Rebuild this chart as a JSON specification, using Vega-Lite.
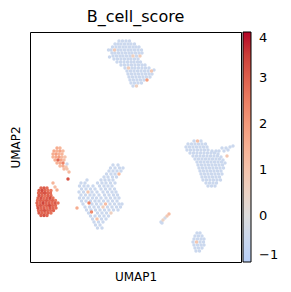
{
"$schema": "https://vega.github.io/schema/vega-lite/v6.json",
"width": 211, "height": 230,
"autosize": "none",
"padding": {"left": 30, "top": 32, "right": 50, "bottom": 30},
"title": {"text": "B_cell_score", "fontSize": 16, "font": "DejaVu Sans", "fontWeight": "normal", "color": "black", "offset": 7},
"data": {"values": [
{"x":119,"y":41,"s":-0.5},{"x":122.5,"y":41,"s":-0.5},{"x":126,"y":41,"s":-0.5},{"x":129.5,"y":41,"s":-0.5},
{"x":115,"y":44,"s":-0.5},{"x":118,"y":44,"s":-0.5},{"x":121,"y":44,"s":-0.5},{"x":124.5,"y":44,"s":-0.5},{"x":128,"y":44,"s":-0.5},{"x":131,"y":44,"s":-0.5},{"x":134.5,"y":44,"s":-0.5},
{"x":112.5,"y":47,"s":-0.5},{"x":116,"y":47,"s":-0.5},{"x":119.5,"y":47,"s":-0.5},{"x":123,"y":47,"s":-0.5},{"x":126,"y":47,"s":-0.5},{"x":129.5,"y":47,"s":-0.5},{"x":133,"y":47,"s":-0.5},{"x":136,"y":47,"s":-0.5},{"x":139,"y":47,"s":-0.5},
{"x":111,"y":50,"s":-0.5},{"x":114.5,"y":50,"s":0.8},{"x":118,"y":50,"s":-0.5},{"x":121,"y":50,"s":-0.5},{"x":124.5,"y":50,"s":-0.5},{"x":128,"y":50,"s":-0.5},{"x":131,"y":50,"s":-0.5},{"x":134.5,"y":50,"s":-0.5},{"x":138,"y":50,"s":-0.5},{"x":141.5,"y":50,"s":-0.5},
{"x":112,"y":53,"s":-0.5},{"x":115,"y":53,"s":-0.5},{"x":118.5,"y":53,"s":-0.5},{"x":122,"y":53,"s":-0.5},{"x":125.5,"y":53,"s":-0.5},{"x":129,"y":53,"s":-0.5},{"x":132,"y":53,"s":-0.5},{"x":135.5,"y":53,"s":-0.5},{"x":139,"y":53,"s":-0.5},{"x":142,"y":53,"s":-0.5},
{"x":113,"y":56,"s":-0.5},{"x":116.5,"y":56,"s":-0.5},{"x":120,"y":56,"s":-0.5},{"x":123,"y":56,"s":-0.5},{"x":126.5,"y":56,"s":-0.5},{"x":130,"y":56,"s":-0.5},{"x":133,"y":56,"s":0.6},{"x":136.5,"y":56,"s":-0.5},{"x":140,"y":56,"s":0.7},
{"x":114,"y":59,"s":-0.5},{"x":117.5,"y":59,"s":-0.5},{"x":121,"y":59,"s":-0.5},{"x":124.5,"y":59,"s":-0.5},{"x":128,"y":59,"s":-0.5},{"x":131,"y":59,"s":-0.5},{"x":134.5,"y":59,"s":-0.5},{"x":138,"y":59,"s":-0.5},
{"x":117,"y":62,"s":-0.5},{"x":120.5,"y":62,"s":-0.5},{"x":124,"y":62,"s":-0.5},{"x":127.5,"y":62,"s":-0.5},{"x":131,"y":62,"s":-0.5},{"x":134,"y":62,"s":-0.5},{"x":137.5,"y":62,"s":-0.5},{"x":140.5,"y":62,"s":-0.5},
{"x":121,"y":65,"s":-0.5},{"x":124.5,"y":65,"s":-0.5},{"x":128,"y":65,"s":-0.5},{"x":131.5,"y":65,"s":-0.5},{"x":135,"y":65,"s":-0.5},{"x":138.5,"y":65,"s":-0.5},{"x":142,"y":65,"s":-0.5},{"x":145,"y":65,"s":-0.5},
{"x":125,"y":68,"s":-0.5},{"x":128.5,"y":68,"s":0.7},{"x":132,"y":68,"s":-0.5},{"x":135,"y":68,"s":-0.5},{"x":138.5,"y":68,"s":-0.5},{"x":142,"y":68,"s":-0.5},{"x":145.5,"y":68,"s":-0.5},{"x":149,"y":68,"s":-0.5},
{"x":127,"y":71,"s":-0.5},{"x":130.5,"y":71,"s":-0.5},{"x":134,"y":71,"s":-0.5},{"x":137.5,"y":71,"s":-0.5},{"x":141,"y":71,"s":-0.5},{"x":144.5,"y":71,"s":-0.5},{"x":148,"y":71,"s":-0.5},{"x":151.5,"y":71,"s":0.9},
{"x":128,"y":74,"s":-0.5},{"x":131.5,"y":74,"s":-0.5},{"x":135,"y":74,"s":-0.5},{"x":138.5,"y":74,"s":-0.5},{"x":142,"y":74,"s":-0.5},{"x":145.5,"y":74,"s":-0.5},{"x":149,"y":74,"s":-0.5},{"x":152,"y":74,"s":-0.5},
{"x":129,"y":77,"s":-0.5},{"x":132.5,"y":77,"s":-0.5},{"x":136,"y":77,"s":-0.5},{"x":139.5,"y":77,"s":-0.5},{"x":143,"y":77,"s":-0.5},{"x":146.5,"y":77,"s":-0.5},{"x":150,"y":77,"s":-0.5},
{"x":130,"y":80,"s":-0.5},{"x":133.5,"y":80,"s":-0.5},{"x":137,"y":80,"s":-0.5},{"x":140.5,"y":80,"s":-0.5},{"x":144,"y":80,"s":-0.5},{"x":147,"y":80,"s":1.9},
{"x":131,"y":83,"s":-0.5},{"x":134.5,"y":83,"s":-0.5},{"x":138,"y":83,"s":-0.5},{"x":141.5,"y":83,"s":-0.5},
{"x":133,"y":86,"s":-0.5},{"x":136.5,"y":86,"s":0.6},
{"x":108.5,"y":50,"s":-0.5},{"x":109.5,"y":57,"s":-0.5},{"x":154,"y":70,"s":-0.5},
{"x":194,"y":141,"s":-0.5},{"x":197.5,"y":141,"s":1.1},{"x":201,"y":141,"s":-0.5},
{"x":188,"y":144,"s":-0.5},{"x":191.5,"y":144,"s":-0.5},{"x":195,"y":144,"s":-0.5},{"x":198.5,"y":144,"s":-0.5},{"x":202,"y":144,"s":-0.5},{"x":205.5,"y":144,"s":-0.5},
{"x":186,"y":147,"s":-0.5},{"x":189.5,"y":147,"s":-0.5},{"x":193,"y":147,"s":-0.5},{"x":196.5,"y":147,"s":-0.5},{"x":200,"y":147,"s":-0.5},{"x":203.5,"y":147,"s":-0.5},{"x":207,"y":147,"s":-0.5},{"x":222,"y":148,"s":-0.5},{"x":226,"y":148,"s":-0.5},{"x":230,"y":147,"s":-0.5},{"x":233,"y":146,"s":-0.5},
{"x":187,"y":150,"s":-0.5},{"x":190.5,"y":150,"s":-0.5},{"x":194,"y":150,"s":-0.5},{"x":197.5,"y":150,"s":-0.5},{"x":201,"y":150,"s":-0.5},{"x":204.5,"y":150,"s":-0.5},{"x":208,"y":150,"s":-0.5},{"x":212,"y":151,"s":-0.5},{"x":216,"y":151,"s":-0.5},{"x":219,"y":151,"s":-0.5},{"x":224,"y":151,"s":-0.5},{"x":228,"y":150,"s":-0.5},
{"x":190,"y":153,"s":-0.5},{"x":193.5,"y":153,"s":-0.5},{"x":197,"y":153,"s":-0.5},{"x":200.5,"y":153,"s":-0.5},{"x":204,"y":153,"s":-0.5},{"x":207.5,"y":153,"s":-0.5},{"x":211,"y":153,"s":-0.5},{"x":214.5,"y":153,"s":-0.5},{"x":218,"y":154,"s":-0.5},
{"x":193,"y":156,"s":-0.5},{"x":196.5,"y":156,"s":-0.5},{"x":200,"y":156,"s":-0.5},{"x":203.5,"y":156,"s":-0.5},{"x":207,"y":156,"s":-0.5},{"x":210.5,"y":156,"s":-0.5},{"x":214,"y":156,"s":-0.5},{"x":217.5,"y":156,"s":-0.5},{"x":221,"y":157,"s":-0.5},{"x":227,"y":156,"s":0.9},
{"x":195,"y":159,"s":-0.5},{"x":198.5,"y":159,"s":-0.5},{"x":202,"y":159,"s":-0.5},{"x":205.5,"y":159,"s":-0.5},{"x":209,"y":159,"s":-0.5},{"x":212.5,"y":159,"s":-0.5},{"x":216,"y":159,"s":-0.5},{"x":219.5,"y":159,"s":-0.5},{"x":223,"y":160,"s":-0.5},
{"x":197,"y":162,"s":-0.5},{"x":200.5,"y":162,"s":-0.5},{"x":204,"y":162,"s":-0.5},{"x":207.5,"y":162,"s":-0.5},{"x":211,"y":162,"s":-0.5},{"x":214.5,"y":162,"s":-0.5},{"x":218,"y":162,"s":-0.5},{"x":221.5,"y":162,"s":-0.5},{"x":225,"y":163,"s":-0.5},
{"x":198,"y":165,"s":-0.5},{"x":201.5,"y":165,"s":-0.5},{"x":205,"y":165,"s":-0.5},{"x":208.5,"y":165,"s":-0.5},{"x":212,"y":165,"s":-0.5},{"x":215.5,"y":165,"s":-0.5},{"x":219,"y":165,"s":-0.5},{"x":222.5,"y":165,"s":-0.5},
{"x":199,"y":168,"s":-0.5},{"x":202.5,"y":168,"s":-0.5},{"x":206,"y":168,"s":-0.5},{"x":209.5,"y":168,"s":-0.5},{"x":213,"y":168,"s":-0.5},{"x":216.5,"y":168,"s":-0.5},{"x":220,"y":168,"s":-0.5},{"x":223.5,"y":168,"s":-0.5},
{"x":200,"y":171,"s":-0.5},{"x":203.5,"y":171,"s":-0.5},{"x":207,"y":171,"s":-0.5},{"x":210.5,"y":171,"s":-0.5},{"x":214,"y":171,"s":-0.5},{"x":217.5,"y":171,"s":-0.5},{"x":221,"y":171,"s":-0.5},
{"x":201,"y":174,"s":-0.5},{"x":204.5,"y":174,"s":-0.5},{"x":208,"y":174,"s":-0.5},{"x":211.5,"y":174,"s":-0.5},{"x":215,"y":174,"s":-0.5},{"x":218.5,"y":174,"s":-0.5},{"x":222,"y":174,"s":-0.5},
{"x":202,"y":177,"s":-0.5},{"x":205.5,"y":177,"s":-0.5},{"x":209,"y":177,"s":-0.5},{"x":212.5,"y":177,"s":-0.5},{"x":216,"y":177,"s":-0.5},{"x":219.5,"y":177,"s":-0.5},
{"x":203,"y":180,"s":-0.5},{"x":206.5,"y":180,"s":-0.5},{"x":210,"y":180,"s":-0.5},{"x":213.5,"y":180,"s":-0.5},{"x":217,"y":180,"s":-0.5},{"x":220.5,"y":180,"s":-0.5},
{"x":206,"y":183,"s":-0.5},{"x":209.5,"y":183,"s":-0.5},{"x":213,"y":183,"s":-0.5},{"x":216.5,"y":183,"s":-0.5},
{"x":208,"y":186,"s":-0.5},{"x":211.5,"y":186,"s":-0.5},{"x":215,"y":186,"s":-0.5},
{"x":197,"y":233,"s":-0.5},{"x":200,"y":233,"s":-0.5},
{"x":195,"y":236,"s":-0.5},{"x":198.5,"y":236,"s":-0.5},{"x":202,"y":236,"s":-0.5},
{"x":194,"y":239,"s":-0.5},{"x":197.5,"y":239,"s":-0.5},{"x":201,"y":239,"s":-0.5},{"x":204,"y":239,"s":-0.5},
{"x":193,"y":242,"s":-0.5},{"x":196.5,"y":242,"s":0.9},{"x":200,"y":242,"s":-0.5},{"x":203.5,"y":242,"s":-0.5},
{"x":194,"y":245,"s":-0.5},{"x":197.5,"y":245,"s":-0.5},{"x":201,"y":245,"s":-0.5},{"x":204,"y":245,"s":-0.5},
{"x":195,"y":248,"s":-0.5},{"x":198.5,"y":248,"s":-0.5},{"x":202,"y":248,"s":-0.5},
{"x":196,"y":251,"s":-0.5},{"x":199.5,"y":251,"s":-0.5},
{"x":161,"y":222,"s":-0.5},{"x":163,"y":220,"s":0.5},{"x":165,"y":218,"s":-0.3},{"x":167,"y":216,"s":0.8},{"x":169,"y":214,"s":1.2},{"x":162,"y":223,"s":-0.5},
{"x":113,"y":165,"s":-0.5},{"x":118,"y":165,"s":-0.5},
{"x":110.5,"y":168,"s":-0.5},{"x":115,"y":168,"s":-0.5},{"x":119.5,"y":168,"s":-0.5},{"x":123,"y":168,"s":-0.5},
{"x":109,"y":171,"s":-0.5},{"x":113,"y":171,"s":-0.5},{"x":117,"y":171,"s":-0.5},{"x":121,"y":171,"s":-0.5},
{"x":106.5,"y":174,"s":-0.5},{"x":111,"y":174,"s":-0.5},{"x":115,"y":174,"s":-0.5},{"x":119,"y":174,"s":1.2},
{"x":104,"y":177,"s":-0.5},{"x":108,"y":177,"s":-0.5},{"x":112.5,"y":177,"s":-0.5},{"x":116.5,"y":177,"s":-0.5},
{"x":87,"y":180,"s":-0.5},{"x":101,"y":180,"s":-0.5},{"x":105,"y":180,"s":-0.5},{"x":109,"y":180,"s":-0.5},{"x":113,"y":180,"s":-0.5},
{"x":81,"y":183,"s":-0.5},{"x":85,"y":183,"s":-0.5},{"x":97.5,"y":183,"s":-0.5},{"x":102,"y":183,"s":-0.5},{"x":106,"y":183,"s":-0.5},{"x":110.5,"y":183,"s":-0.5},{"x":115,"y":183,"s":-0.5},
{"x":79.5,"y":186,"s":-0.5},{"x":84,"y":186,"s":-0.5},{"x":88,"y":186,"s":-0.5},{"x":93,"y":186,"s":-0.5},{"x":99.5,"y":186,"s":-0.5},{"x":104,"y":186,"s":-0.5},{"x":108,"y":186,"s":-0.5},{"x":112,"y":186,"s":-0.5},
{"x":81.5,"y":189,"s":-0.5},{"x":86,"y":189,"s":-0.5},{"x":90.5,"y":189,"s":-0.5},{"x":95,"y":189,"s":-0.5},{"x":101,"y":189,"s":-0.5},{"x":105.5,"y":189,"s":-0.5},{"x":110,"y":189,"s":-0.5},{"x":114.5,"y":189,"s":-0.5},
{"x":79,"y":192,"s":-0.5},{"x":83.5,"y":192,"s":-0.5},{"x":88,"y":192,"s":0.9},{"x":92,"y":192,"s":-0.5},{"x":97,"y":192,"s":-0.5},{"x":103,"y":192,"s":-0.5},{"x":107.5,"y":192,"s":-0.5},{"x":112,"y":192,"s":-0.5},{"x":116,"y":192,"s":-0.5},
{"x":81,"y":195,"s":-0.5},{"x":85.5,"y":195,"s":-0.5},{"x":90,"y":195,"s":-0.5},{"x":94,"y":195,"s":-0.5},{"x":99,"y":195,"s":-0.5},{"x":104.5,"y":195,"s":-0.5},{"x":109,"y":195,"s":-0.5},{"x":113.5,"y":195,"s":-0.5},{"x":117.5,"y":195,"s":-0.5},
{"x":79.5,"y":198,"s":-0.5},{"x":83.5,"y":198,"s":-0.5},{"x":88,"y":198,"s":-0.5},{"x":92.5,"y":198,"s":-0.5},{"x":96.5,"y":198,"s":-0.5},{"x":101,"y":198,"s":-0.5},{"x":106,"y":198,"s":-0.5},{"x":110.5,"y":198,"s":-0.5},{"x":115,"y":198,"s":-0.5},{"x":119,"y":198,"s":-0.5},
{"x":81.5,"y":201,"s":-0.5},{"x":86,"y":201,"s":-0.5},{"x":90.5,"y":201,"s":-0.5},{"x":95,"y":201,"s":-0.5},{"x":99,"y":201,"s":-0.5},{"x":103.5,"y":201,"s":-0.5},{"x":108,"y":201,"s":-0.5},{"x":112.5,"y":201,"s":-0.5},{"x":117,"y":201,"s":-0.5},
{"x":83,"y":204,"s":-0.5},{"x":89,"y":203,"s":2.4},{"x":92,"y":204,"s":-0.5},{"x":96.5,"y":204,"s":-0.5},{"x":101,"y":204,"s":-0.5},{"x":105.5,"y":204,"s":1.2},{"x":110,"y":204,"s":-0.5},{"x":114.5,"y":204,"s":-0.5},{"x":119,"y":204,"s":-0.5},{"x":122,"y":204,"s":-0.5},
{"x":77,"y":208,"s":1.6},{"x":85,"y":207,"s":-0.5},{"x":89.5,"y":207,"s":-0.5},{"x":94,"y":207,"s":-0.5},{"x":98.5,"y":207,"s":-0.5},{"x":103,"y":207,"s":0.7},{"x":107.5,"y":207,"s":-0.5},{"x":112,"y":207,"s":-0.5},{"x":116.5,"y":207,"s":-0.5},{"x":120.5,"y":207,"s":-0.5},
{"x":86.5,"y":210,"s":-0.5},{"x":91,"y":210,"s":-0.5},{"x":95.5,"y":210,"s":-0.5},{"x":100,"y":210,"s":-0.5},{"x":104.5,"y":210,"s":-0.5},{"x":109,"y":210,"s":-0.5},{"x":113.5,"y":210,"s":-0.5},{"x":118,"y":210,"s":-0.5},
{"x":88.5,"y":213,"s":-0.5},{"x":91.5,"y":212,"s":2.3},{"x":97.5,"y":213,"s":-0.5},{"x":102,"y":213,"s":-0.5},{"x":106.5,"y":213,"s":-0.5},{"x":111,"y":213,"s":0.6},
{"x":90.5,"y":216,"s":-0.5},{"x":95,"y":216,"s":-0.5},{"x":99.5,"y":216,"s":-0.5},{"x":104,"y":216,"s":-0.5},{"x":108.5,"y":216,"s":-0.5},
{"x":92.5,"y":219,"s":-0.5},{"x":97,"y":219,"s":1.0},{"x":101.5,"y":219,"s":-0.5},{"x":106,"y":219,"s":-0.5},
{"x":94,"y":222,"s":-0.5},{"x":98.5,"y":222,"s":-0.5},{"x":103,"y":222,"s":-0.5},
{"x":95.5,"y":225,"s":-0.5},{"x":100,"y":225,"s":-0.5},
{"x":97.5,"y":228,"s":-0.5},{"x":102,"y":228,"s":-0.5},
{"x":41,"y":188,"s":2.9},{"x":44,"y":188,"s":3.1},{"x":47,"y":188,"s":2.8},
{"x":39,"y":190.5,"s":3.0},{"x":42,"y":190.5,"s":3.3},{"x":45,"y":190.5,"s":2.9},{"x":48,"y":190.5,"s":2.7},{"x":51,"y":190.5,"s":2.6},
{"x":38.5,"y":193,"s":2.8},{"x":41.5,"y":193,"s":3.0},{"x":44.5,"y":193,"s":3.2},{"x":47.5,"y":193,"s":2.9},{"x":50.5,"y":193,"s":2.8},
{"x":39,"y":195.5,"s":3.1},{"x":42,"y":195.5,"s":2.9},{"x":45,"y":195.5,"s":2.7},{"x":48,"y":195.5,"s":3.0},{"x":51,"y":195.5,"s":2.8},
{"x":38,"y":198,"s":2.9},{"x":41,"y":198,"s":3.2},{"x":44,"y":198,"s":2.8},{"x":47,"y":198,"s":3.0},{"x":50,"y":198,"s":3.3},{"x":53,"y":198,"s":2.7},
{"x":37.5,"y":200.5,"s":2.8},{"x":40.5,"y":200.5,"s":3.0},{"x":43.5,"y":200.5,"s":2.9},{"x":46.5,"y":200.5,"s":3.1},{"x":49.5,"y":200.5,"s":2.8},{"x":52.5,"y":200.5,"s":3.0},{"x":55.5,"y":200.5,"s":2.6},
{"x":37,"y":203,"s":3.0},{"x":40,"y":203,"s":2.8},{"x":43,"y":203,"s":3.4},{"x":46,"y":203,"s":2.9},{"x":49,"y":203,"s":3.0},{"x":52,"y":203,"s":2.8},{"x":55,"y":203,"s":3.1},{"x":58,"y":203,"s":2.7},
{"x":37.5,"y":205.5,"s":2.9},{"x":40.5,"y":205.5,"s":3.1},{"x":43.5,"y":205.5,"s":2.8},{"x":46.5,"y":205.5,"s":3.0},{"x":49.5,"y":205.5,"s":3.3},{"x":52.5,"y":205.5,"s":2.9},{"x":55.5,"y":205.5,"s":2.8},
{"x":38,"y":208,"s":3.2},{"x":41,"y":208,"s":2.9},{"x":44,"y":208,"s":3.0},{"x":47,"y":208,"s":2.7},{"x":50,"y":208,"s":3.1},{"x":53,"y":208,"s":2.9},{"x":56,"y":208,"s":2.8},
{"x":38.5,"y":210.5,"s":2.8},{"x":41.5,"y":210.5,"s":3.0},{"x":44.5,"y":210.5,"s":3.2},{"x":47.5,"y":210.5,"s":2.9},{"x":50.5,"y":210.5,"s":2.8},{"x":53.5,"y":210.5,"s":3.0},
{"x":39,"y":213,"s":3.1},{"x":42,"y":213,"s":2.9},{"x":45,"y":213,"s":2.8},{"x":48,"y":213,"s":3.0},{"x":51,"y":213,"s":2.7},
{"x":41,"y":215.5,"s":3.0},{"x":44,"y":215.5,"s":3.2},{"x":47,"y":215.5,"s":2.9},
{"x":53,"y":183,"s":1.4},{"x":55,"y":187,"s":1.2},{"x":57,"y":190,"s":1.6},{"x":68,"y":179,"s":3.2},{"x":69,"y":172,"s":1.3},
{"x":57,"y":148,"s":1.6},{"x":60,"y":148,"s":1.4},
{"x":54,"y":151,"s":1.7},{"x":57,"y":151,"s":1.5},{"x":60,"y":151,"s":1.8},{"x":63,"y":151,"s":1.3},
{"x":53,"y":154,"s":1.6},{"x":56,"y":154,"s":1.9},{"x":59,"y":154,"s":1.5},{"x":62,"y":154,"s":1.4},
{"x":53,"y":157,"s":1.5},{"x":56,"y":157,"s":1.7},{"x":59,"y":157,"s":2.0},{"x":62,"y":157,"s":1.3},{"x":65,"y":157,"s":1.0},
{"x":55,"y":160,"s":1.6},{"x":58,"y":160,"s":2.9},{"x":61,"y":160,"s":1.8},{"x":64,"y":160,"s":1.2},
{"x":57,"y":163,"s":1.5},{"x":60,"y":163,"s":1.7},{"x":63,"y":163,"s":2.4},{"x":67,"y":164,"s":-0.4},
{"x":60,"y":166,"s":1.3},{"x":63,"y":166,"s":1.6},{"x":66,"y":167,"s":0.9},
{"x":64,"y":169,"s":1.2},{"x":67,"y":169,"s":1.0}
]},
"mark": {"type": "circle", "size": 12, "opacity": 1},
"encoding": {
"x": {"field": "x", "type": "quantitative", "scale": {"domain": [30, 241], "nice": false, "zero": false},
 "axis": {"title": "UMAP1", "labels": false, "ticks": false, "grid": false, "domain": false, "titleFontSize": 12, "titleFont": "DejaVu Sans", "titleFontWeight": "normal", "titleColor": "black", "titlePadding": 9}},
"y": {"field": "y", "type": "quantitative", "scale": {"domain": [32, 262], "nice": false, "zero": false, "reverse": true},
 "axis": {"title": "UMAP2", "labels": false, "ticks": false, "grid": false, "domain": false, "titleFontSize": 12, "titleFont": "DejaVu Sans", "titleFontWeight": "normal", "titleColor": "black", "titlePadding": 8}},
"color": {"field": "s", "type": "quantitative",
 "scale": {"domain": [-1, -0.5, 0, 0.5, 1, 1.5, 2, 2.5, 3, 3.5, 4],
  "range": ["#b8d0f9", "#cbd8ee", "#dddddd", "#ecd3c5", "#f5c4ad", "#f7b194", "#f49a7b", "#ec7f63", "#de604d", "#cb3e38", "#b40426"], "interpolate": "rgb"},
 "legend": {"title": null, "orient": "right", "offset": 2, "padding": 0, "direction": "vertical", "gradientLength": 230, "gradientThickness": 8, "values": [-1, 0, 1, 2, 3, 4], "labelFontSize": 13, "labelFont": "DejaVu Sans", "labelColor": "black", "labelOffset": 8, "labelBaseline": "middle", "gradientStrokeColor": "black", "gradientStrokeWidth": 1,
  "encode": {"labels": {"update": {"fontSize": {"value": 13}}}}}},
"order": {"field": "s", "type": "quantitative"}
},
"config": {"view": {"stroke": "black", "strokeWidth": 1}, "background": "white", "legend": {"labelFontSize": 13}}
}
